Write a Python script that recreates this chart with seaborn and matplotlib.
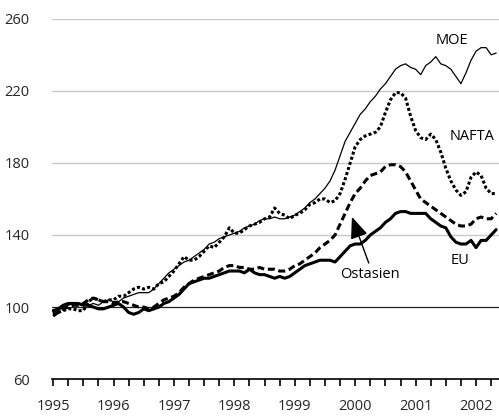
import numpy as np
import pandas as pd
import seaborn as sns
import matplotlib.pyplot as plt

# monthly index values, Jan 1995 - May 2002
moe = [97, 98, 100, 101, 102, 102, 101, 101, 102, 101, 103, 104,
       103, 103, 105, 106, 107, 108, 108, 108, 110, 113, 116, 119,
       121, 123, 125, 126, 128, 130, 132, 135, 136, 138, 139, 140,
       141, 142, 144, 145, 146, 148, 149, 149, 150, 149, 149, 150,
       151, 153, 155, 158, 160, 163, 166, 170, 176, 184, 192, 197,
       202, 207, 210, 214, 217, 221, 224, 228, 232, 234, 235, 233,
       232, 229, 234, 236, 239, 235, 234, 232, 228, 224, 230, 237,
       242, 244, 244, 240, 241]
nafta = [96, 97, 98, 99, 99, 98, 98, 103, 105, 104, 103, 104,
         104, 106, 106, 108, 110, 111, 110, 111, 110, 113, 114, 117,
         120, 124, 128, 126, 126, 128, 131, 134, 133, 136, 139, 144,
         141, 141, 143, 145, 146, 147, 149, 150, 155, 152, 151, 149,
         151, 152, 154, 157, 158, 160, 160, 158, 159, 163, 171, 180,
         189, 193, 195, 196, 197, 200, 208, 215, 219, 219, 216, 206,
         198, 194, 193, 196, 193, 186, 177, 170, 165, 162, 164, 172,
         175, 173, 166, 163, 163]
ostasien = [95, 97, 99, 100, 101, 101, 102, 104, 105, 104, 103, 103,
            102, 103, 103, 102, 101, 100, 100, 99, 100, 102, 104, 105,
            106, 108, 111, 113, 115, 116, 117, 118, 119, 120, 122, 123,
            123, 122, 122, 121, 121, 122, 121, 121, 121, 120, 120, 121,
            123, 124, 126, 128, 130, 133, 135, 137, 140, 146, 152, 158,
            163, 166, 170, 173, 174, 175, 178, 179, 179, 178, 175, 170,
            165, 160, 158, 156, 154, 152, 150, 148, 146, 145, 145, 146,
            149, 150, 149, 149, 152]
eu = [98, 99, 101, 102, 102, 102, 101, 101, 100, 99, 99, 100,
      101, 102, 100, 97, 96, 97, 99, 98, 99, 100, 102, 103,
      105, 107, 110, 113, 114, 115, 116, 116, 117, 118, 119, 120,
      120, 120, 119, 121, 119, 118, 118, 117, 116, 117, 116, 117,
      119, 121, 123, 124, 125, 126, 126, 126, 125, 128, 131, 134,
      135, 135, 137, 140, 142, 144, 147, 149, 152, 153, 153, 152,
      152, 152, 152, 149, 147, 145, 144, 139, 136, 135, 135, 137,
      133, 137, 137, 140, 143]

y_ticks = [60, 100, 140, 180, 220, 260]

df = pd.DataFrame({"MOE": moe, "NAFTA": nafta, "Ostasien": ostasien, "EU": eu})
df["t"] = 1995 + np.arange(len(df)) / 12

sns.set_theme(style="ticks")
plt.rcParams["font.family"] = ["Open Sans", "DejaVu Sans"]

fig = plt.figure(figsize=(4.99, 4.18), dpi=100)
ax = fig.add_axes([0.104, 0.093, 0.896, 0.862])

for y in y_ticks[2:]:
    ax.axhline(y, color="#c8c8c8", lw=1.0, zorder=0)
ax.axhline(100, color="#222222", lw=0.9, zorder=1)

sns.lineplot(data=df, x="t", y="MOE", ax=ax, color="black", lw=0.9)
sns.lineplot(data=df, x="t", y="NAFTA", ax=ax, color="black", lw=2.2,
             linestyle=(0, (1, 0.75)))
sns.lineplot(data=df, x="t", y="Ostasien", ax=ax, color="black", lw=2.2,
             linestyle=(0, (2.3, 1.2)))
sns.lineplot(data=df, x="t", y="EU", ax=ax, color="black", lw=2.2)

ax.set_xlim(1994.98, 2002.38)
ax.set_ylim(60, 260)
quarters = np.arange(1995, 2002.3, 0.25)
ax.set_xticks(quarters)
ax.set_xticklabels([str(int(q)) if q == int(q) else "" for q in quarters])
ax.set_yticks(y_ticks)
ax.tick_params(axis="x", bottom=True, length=5, width=1.2, color="black",
               direction="out", labelsize=10.5, pad=9)
ax.tick_params(axis="y", left=False, labelsize=10.5, pad=10)
ax.set_xlabel("")
ax.set_ylabel("")

for s in ["top", "right", "left"]:
    ax.spines[s].set_visible(False)
ax.spines["bottom"].set_color("black")
ax.spines["bottom"].set_linewidth(1.2)

kw = dict(fontsize=10.5, ha="center", va="center", color="black")
ax.text(2001.60, 247.8, "MOE", **kw)
ax.text(2001.93, 194.4, "NAFTA", **kw)
ax.text(2001.73, 126.1, "EU", **kw)
ax.text(2000.24, 117.8, "Ostasien", **kw)
ax.annotate("", xy=(1999.93, 151.5), xytext=(2000.24, 123.0),
            arrowprops=dict(arrowstyle="-|>,head_length=1.1,head_width=0.45",
                            color="black", lw=1.0))

fig.savefig("out.png", dpi=100)
